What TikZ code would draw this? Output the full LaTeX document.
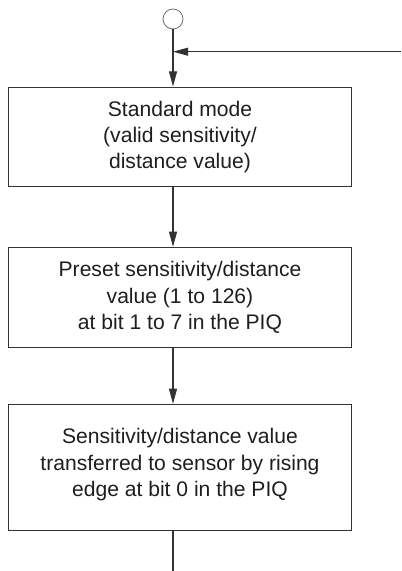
\documentclass[tikz,border=0pt]{standalone}
\usepackage{fontspec}
\setmainfont{Liberation Sans}
\usetikzlibrary{arrows.meta, positioning, calc}

\definecolor{linegray}{HTML}{333333}
\definecolor{textgray}{HTML}{1E1E1E}

\tikzset{
  stepbox/.style={draw=linegray, line width=0.9pt, minimum width=8.575cm, align=center, text=textgray,
    font=\fontsize{15}{18.6}\selectfont},
  flow/.style={draw=linegray, line width=0.8pt},
  >={Triangle[length=0.38cm, width=0.2cm]}
}

\begin{document}
\begin{tikzpicture}[x=0.025cm, y=-0.025cm]
            \useasboundingbox (0,0) rectangle (401,571);

            % Start
            \node[draw=linegray!70, line width=0.6pt, circle, minimum size=0.5cm, inner sep=0pt] (start) at (173,19) {};

            % Standard mode
            \node[stepbox, minimum height=2.49cm] (mode) at (180,137) {Standard mode\\(valid sensitivity/\\distance value)};

            % Preset value
            \node[stepbox, minimum height=2.5cm] (preset) at (180,297.5) {Preset sensitivity/distance\\value (1 to 126)\\at bit 1 to 7 in the PIQ};

            % Transfer to sensor
            \node[stepbox, minimum height=3.15cm] (sensor) at (180,467.5) {Sensitivity/distance value\\transferred to sensor by rising\\edge at bit 0 in the PIQ\\[-0.4cm]};

            \coordinate (back) at (401,51.7);
            \coordinate (join) at (start |- back);
            \coordinate (out) at (173,571);

            \draw[flow, ->] (start) -- (start |- mode.north);
            \draw[flow, ->] (back) -- (join);
            \draw[flow, ->] (mode.south -| start) -- (preset.north -| start);
            \draw[flow, ->] (preset.south -| start) -- (sensor.north -| start);
            \draw[flow] (sensor.south -| out) -- (out);
        \end{tikzpicture}
\end{document}
